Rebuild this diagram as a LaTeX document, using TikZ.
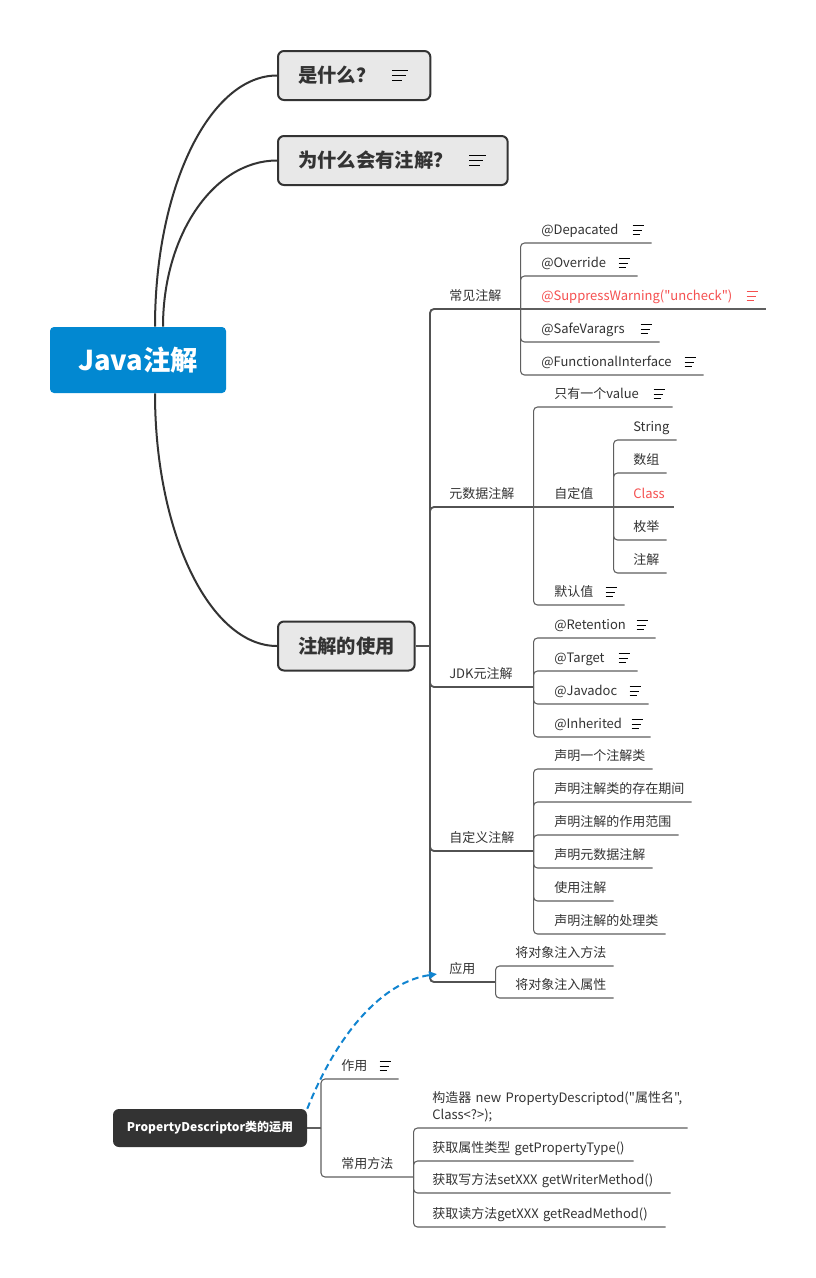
\documentclass[tikz,border=0pt]{standalone}
\usepackage{fontspec}
\setmainfont{Noto Sans CJK SC}[Ligatures=TeXOff]
\usetikzlibrary{calc,arrows.meta}
\pgfdeclarelayer{bglayer}
\pgfdeclarelayer{edgelayer}
\pgfdeclarelayer{nodelayer}
\pgfsetlayers{bglayer,edgelayer,nodelayer,main}
\definecolor{rootblue}{RGB}{2,136,209}
\definecolor{ink}{RGB}{51,51,51}
\definecolor{boxgray}{RGB}{232,232,232}
\definecolor{twiggray}{RGB}{95,95,95}
\definecolor{alertred}{RGB}{245,80,80}
\definecolor{linkblue}{RGB}{16,132,208}
\tikzset{font=\fontsize{9.75pt}{12.75pt}\selectfont}
\tikzstyle{none}=[inner sep=0pt]
\tikzstyle{root}=[fill=rootblue,rounded corners=3pt,minimum width=132pt,minimum height=49.5pt,text=white,font=\fontsize{20.5pt}{24pt}\selectfont\bfseries]
\tikzstyle{topic}=[anchor=west,draw=ink,line width=1.5pt,fill=boxgray,rounded corners=4.5pt,minimum height=36.75pt,inner xsep=15pt,text=ink,font=\fontsize{14.5pt}{17pt}\selectfont\bfseries]
\tikzstyle{pdbox}=[fill=ink,rounded corners=4.5pt,minimum width=145.5pt,minimum height=28.5pt,text=white,font=\fontsize{9pt}{11pt}\selectfont\bfseries]
\tikzstyle{leafbase}=[anchor=south west,inner xsep=0pt,inner ysep=4.5pt,align=left,text=ink]
\tikzstyle{leaf}=[leafbase,text height=8.5pt,text depth=1.7pt]
\tikzstyle{alert}=[text=alertred]
\tikzstyle{stem}=[draw=ink,line width=1.5pt]
\tikzstyle{trunk}=[draw=ink!85,line width=1.4pt,rounded corners=3pt]
\tikzstyle{twig}=[draw=twiggray,line width=0.8pt,rounded corners=3pt]
\tikzstyle{link}=[draw=linkblue,line width=1.5pt,dash pattern=on 5pt off 3pt,-{Triangle[length=6pt,width=5.5pt]}]
\tikzset{notes/.pic={
	\draw[line width=0.75pt] (-11,-4.3) -- (0,-4.3);
	\draw[line width=0.75pt] (-11,0) -- (-1.5,0);
	\draw[line width=0.75pt] (-11,4.3) -- (-4,4.3);
}}

\begin{document}
\begin{tikzpicture}[x=0.75pt,y=-0.75pt,color=ink]
	\begin{pgfonlayer}{bglayer}
		\fill[white] (0,0) rectangle (815,1278);
	\end{pgfonlayer}
	\useasboundingbox (0,0) rectangle (815,1278);
	\begin{pgfonlayer}{nodelayer}
		\node [style=root] (0) at (138, 360) {Java注解};
		\node [style=topic] (1) at (277, 75.5) {是什么？\rule{26.25pt}{0pt}};
		\node [style=topic] (2) at (277, 160.5) {为什么会有注解？\rule{26.25pt}{0pt}};
		\node [style=topic] (3) at (277, 646) {注解的使用};
		\node [style=none] (4) at (430, 646) {};
		\node [style=leaf, text width=53.25pt] (5) at (449, 309) {常见注解};
		\node [style=leaf, text width=63pt] (6) at (449, 507) {元数据注解};
		\node [style=leaf, text width=63pt] (7) at (449, 687) {JDK元注解};
		\node [style=leaf, text width=63pt] (8) at (449, 851) {自定义注解};
		\node [style=leaf, text width=34.5pt] (9) at (449, 982) {应用};
		% 常见注解
		\node [style=leaf, text width=82.5pt] (10) at (541, 243) {@Depacated};
		\node [style=leaf, text width=72pt] (11) at (541, 276) {@Override};
		\node [style=leaf, style=alert, text width=168pt] (12) at (541, 309) {@SuppressWarning("uncheck")};
		\node [style=leaf, text width=88.5pt] (13) at (541, 342) {@SafeVaragrs};
		\node [style=leaf, text width=121.5pt] (14) at (541, 375) {@FunctionalInterface};
		% 元数据注解
		\node [style=leaf, text width=88.5pt] (15) at (554, 407) {只有一个value};
		\node [style=leaf, text width=44.25pt] (16) at (554, 507) {自定值};
		\node [style=leaf, text width=52.5pt] (17) at (554, 605) {默认值};
		\node [style=leaf, text width=32.25pt] (18) at (633, 440) {String};
		\node [style=leaf, text width=24.75pt] (19) at (633, 473) {数组};
		\node [style=leaf, style=alert, text width=30pt] (20) at (633, 507) {Class};
		\node [style=leaf, text width=24.75pt] (21) at (633, 540) {枚举};
		\node [style=leaf, text width=24.75pt] (22) at (633, 573) {注解};
		% JDK元注解
		\node [style=leaf, text width=75.75pt] (23) at (554, 638) {@Retention};
		\node [style=leaf, text width=62.25pt] (24) at (554, 671) {@Target};
		\node [style=leaf, text width=70.5pt] (25) at (554, 704) {@Javadoc};
		\node [style=leaf, text width=72pt] (26) at (554, 737) {@Inherited};
		% 自定义注解
		\node [style=leaf, text width=73.5pt] (27) at (554, 769) {声明一个注解类};
		\node [style=leaf, text width=102.75pt] (28) at (554, 802) {声明注解类的存在期间};
		\node [style=leaf, text width=93pt] (29) at (554, 835) {声明注解的作用范围};
		\node [style=leaf, text width=73.5pt] (30) at (554, 868) {声明元数据注解};
		\node [style=leaf, text width=44.25pt] (31) at (554, 901) {使用注解};
		\node [style=leaf, text width=83.25pt] (32) at (554, 934) {声明注解的处理类};
		% 应用
		\node [style=leaf, text width=73.5pt] (33) at (515, 966) {将对象注入方法};
		\node [style=leaf, text width=73.5pt] (34) at (515, 998) {将对象注入属性};
		% PropertyDescriptor
		\node [style=pdbox] (35) at (210, 1128) {PropertyDescriptor类的运用};
		\node [style=none] (36) at (321, 1128) {};
		\node [style=leaf, text width=42.75pt] (37) at (341, 1079) {作用};
		\node [style=leaf, text width=54pt] (38) at (341, 1177) {常用方法};
		\node [style=leafbase, text width=191.25pt] (39) at (432, 1128) {\mbox{构造器 new PropertyDescriptod("属性名",}\\Class<?>);};
		\node [style=leaf, text width=150.75pt] (40) at (432, 1161) {\mbox{获取属性类型 getPropertyType()}};
		\node [style=leaf, text width=178.5pt] (41) at (432, 1193) {\mbox{获取写方法setXXX getWriterMethod()}};
		\node [style=leaf, text width=174.75pt] (42) at (432, 1227) {\mbox{获取读方法getXXX getReadMethod()}};
		\node [style=none] (43) at (437, 974) {};
		% notes
		\pic [xscale=1.5, yscale=1.25] at ([xshift=-17.25pt]1.east) {notes};
		\pic [xscale=1.5, yscale=1.25] at ([xshift=-17.25pt]2.east) {notes};
		\foreach \n in {10,11,13,14,15,17,23,24,25,26,37}
			\pic at ([shift={(-8,-13)}]\n.south east) {notes};
		\pic [alertred] at ([shift={(-8,-13)}]12.south east) {notes};
	\end{pgfonlayer}
	\begin{pgfonlayer}{edgelayer}
		\draw [style=stem] ($(0.north)+(17,0)$) .. controls +(0,-140) and +(-67,0) .. (1.west);
		\draw [style=stem] ($(0.north)+(25,0)$) .. controls +(0,-92) and +(-63,0) .. (2.west);
		\draw [style=stem] ($(0.south)+(17,0)$) .. controls +(0,140) and +(-67,0) .. (3.west);
		\draw [style=trunk] (3.east) -- (4.center);
		\foreach \n in {5,6,7,8,9}
			\draw [style=trunk] (4.center) |- (\n.south east);
		\foreach \n in {10,11,13,14}
			\draw [style=twig] (5.south east) |- (\n.south east);
		\draw [style=twig] (5.south east) -- (12.south east);
		\draw [style=twig] (6.south east) |- (15.south east);
		\draw [style=twig] (6.south east) -- (16.south east);
		\draw [style=twig] (6.south east) |- (17.south east);
		\foreach \n in {18,19,21,22}
			\draw [style=twig] (16.south east) |- (\n.south east);
		\draw [style=twig] (16.south east) -- (20.south east);
		\foreach \n in {23,24,25,26}
			\draw [style=twig] (7.south east) |- (\n.south east);
		\foreach \n in {27,28,29,30,31,32}
			\draw [style=twig] (8.south east) |- (\n.south east);
		\foreach \n in {33,34}
			\draw [style=twig] (9.south east) |- (\n.south east);
		\draw [style=twig] (35.east) -- (36.center);
		\draw [style=twig] (36.center) |- (37.south east);
		\draw [style=twig] (36.center) |- (38.south east);
		\foreach \n in {39,40,41,42}
			\draw [style=twig] (38.south east) |- (\n.south east);
		\draw [style=link] (35.north east) .. controls +(30,-75) and +(-55,8) .. (43.center);
	\end{pgfonlayer}
\end{tikzpicture}
\end{document}
